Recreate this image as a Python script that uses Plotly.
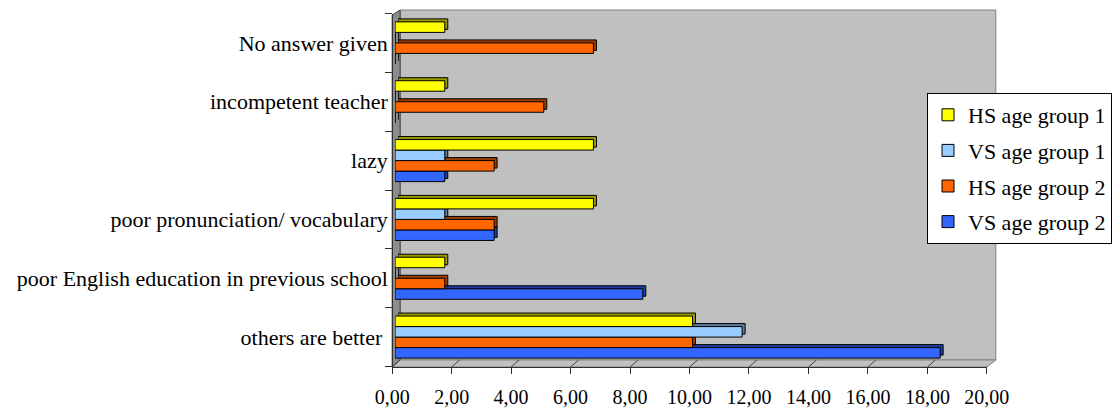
import plotly.graph_objects as go

# Reasons given, bottom to top
categories = [
    "others are better\u00a0",
    "poor English education in previous school",
    "poor pronunciation/ vocabulary",
    "lazy",
    "incompetent teacher",
    "No answer given",
]

hs_age_group_1 = [10.00, 1.67, 6.67, 6.67, 1.67, 1.67]
vs_age_group_1 = [11.67, 0.00, 1.67, 1.67, 0.00, 0.00]
hs_age_group_2 = [10.00, 1.67, 3.33, 3.33, 5.00, 6.67]
vs_age_group_2 = [18.33, 8.33, 3.33, 1.67, 0.00, 0.00]

x_ticks = [0, 2, 4, 6, 8, 10, 12, 14, 16, 18, 20]

W, H = 1112, 409
FONT = "'Liberation Serif', 'Times New Roman', Times, 'DejaVu Serif', serif"


def fx(px):
    return px / W


def fy(py):
    return 1 - py / H


# series listed bottom-up inside each group; rank sets legend order
series = [
    ("VS age group 2", vs_age_group_2, "#3366FF", "#1F3D99", 4),
    ("HS age group 2", hs_age_group_2, "#FF6600", "#993D00", 3),
    ("VS age group 1", vs_age_group_1, "#99CCFF", "#5C7A99", 2),
    ("HS age group 1", hs_age_group_1, "#FFFF00", "#999900", 1),
]

fig = go.Figure()

# depth faces: same bars on an axis pair nudged right and up
for name, vals, col, dark, rank in series:
    fig.add_trace(go.Bar(
        y=categories, x=vals, orientation="h", name=name,
        marker=dict(color=dark, line=dict(color="black", width=1)),
        xaxis="x2", yaxis="y2", showlegend=False, hoverinfo="skip",
    ))

# front faces
for name, vals, col, dark, rank in series:
    fig.add_trace(go.Bar(
        y=categories, x=vals, orientation="h", name=name,
        marker=dict(color=col, line=dict(color="black", width=1)),
        xaxis="x3", yaxis="y3", legendrank=rank, legendgroup=name,
    ))

# geometry (pixels)
front_l, front_r = 395, 994
back_l, back_r = 403, 1003
wall_top, floor_back = 10, 360
front_top, front_bot = 15, 367
bar_l, bar_span = 398, 599
bar_top, bar_bot = 13.5, 366.5
d = 3

axis_hidden = dict(visible=False, showgrid=False, zeroline=False)

fig.update_layout(
    width=W, height=H,
    margin=dict(l=0, r=0, t=0, b=0),
    paper_bgcolor="white",
    plot_bgcolor="rgba(0,0,0,0)",
    separators=",.",
    barmode="group",
    bargap=0.285,
    bargroupgap=0,
    font=dict(family=FONT, size=20, color="black"),
    # back wall grid
    xaxis=dict(domain=[fx(back_l), fx(back_r)], range=[0, 20], dtick=2,
               showgrid=True, gridcolor="#505050", gridwidth=1,
               zeroline=False, showticklabels=False, ticks="", anchor="y"),
    yaxis=dict(domain=[fy(floor_back), fy(wall_top)], range=[0, 1],
               showgrid=False, zeroline=False, showticklabels=False,
               ticks="", anchor="x"),
    # depth faces
    xaxis2=dict(domain=[fx(bar_l + d), fx(bar_l + d + bar_span)], range=[0, 20],
                anchor="y2", **axis_hidden),
    yaxis2=dict(domain=[fy(bar_bot - d), fy(bar_top - d)], anchor="x2",
                type="category", categoryorder="array",
                categoryarray=categories, **axis_hidden),
    # front faces
    xaxis3=dict(domain=[fx(bar_l), fx(bar_l + bar_span)], range=[0, 20],
                anchor="y3", **axis_hidden),
    yaxis3=dict(domain=[fy(bar_bot), fy(bar_top)], anchor="free",
                position=fx(front_l), type="category",
                categoryorder="array", categoryarray=categories,
                showgrid=False, zeroline=False, showline=True,
                linecolor="#303030", linewidth=1,
                ticks="outside", tickson="boundaries", ticklen=7,
                tickcolor="#303030",
                tickfont=dict(family=FONT, size=22, color="black"),
                automargin=False),
    # front value axis with labels
    xaxis4=dict(domain=[fx(front_l), fx(front_r)], range=[0, 20],
                anchor="y3", tickvals=x_ticks, tickformat=".2f",
                showgrid=False, zeroline=False, showline=True,
                linecolor="#303030", linewidth=1,
                ticks="outside", ticklen=6, tickcolor="#303030",
                ticklabelstandoff=6,
                tickfont=dict(family=FONT, size=20, color="black"),
                automargin=False),
    legend=dict(
        x=fx(934), y=fy(93), xanchor="left", yanchor="top",
        bgcolor="white", bordercolor="black", borderwidth=1,
        font=dict(family=FONT, size=22, color="black"),
        traceorder="grouped", tracegroupgap=4,
    ),
    showlegend=True,
)

shapes = []
# back wall
shapes.append(dict(type="rect", xref="paper", yref="paper",
                   x0=fx(back_l), x1=fx(back_r), y0=fy(floor_back), y1=fy(wall_top),
                   fillcolor="#C0C0C0", line=dict(color="#808080", width=1),
                   layer="below"))
# left side wall
shapes.append(dict(
    type="path", xref="paper", yref="paper",
    path=(f"M {fx(front_l)},{fy(front_top)} L {fx(back_l)},{fy(wall_top)} "
          f"L {fx(back_l)},{fy(floor_back)} L {fx(front_l)},{fy(front_bot)} Z"),
    fillcolor="#8C8C8C", line=dict(color="#404040", width=1), layer="below"))
# floor
shapes.append(dict(
    type="path", xref="paper", yref="paper",
    path=(f"M {fx(front_l)},{fy(front_bot)} L {fx(back_l)},{fy(floor_back)} "
          f"L {fx(back_r)},{fy(floor_back)} L {fx(front_r)},{fy(front_bot)} Z"),
    fillcolor="#C0C0C0", line=dict(color="#808080", width=1), layer="below"))
# floor ridges at each tick
for t in x_ticks:
    shapes.append(dict(type="line", xref="x4", yref="paper",
                       xsizemode="pixel", xanchor=t, x0=0, x1=back_l - front_l,
                       ysizemode="pixel", yanchor=fy(front_bot), y0=0,
                       y1=front_bot - floor_back,
                       line=dict(color="#404040", width=1), layer="below"))
fig.update_layout(shapes=shapes)

fig.write_html("out.html")
